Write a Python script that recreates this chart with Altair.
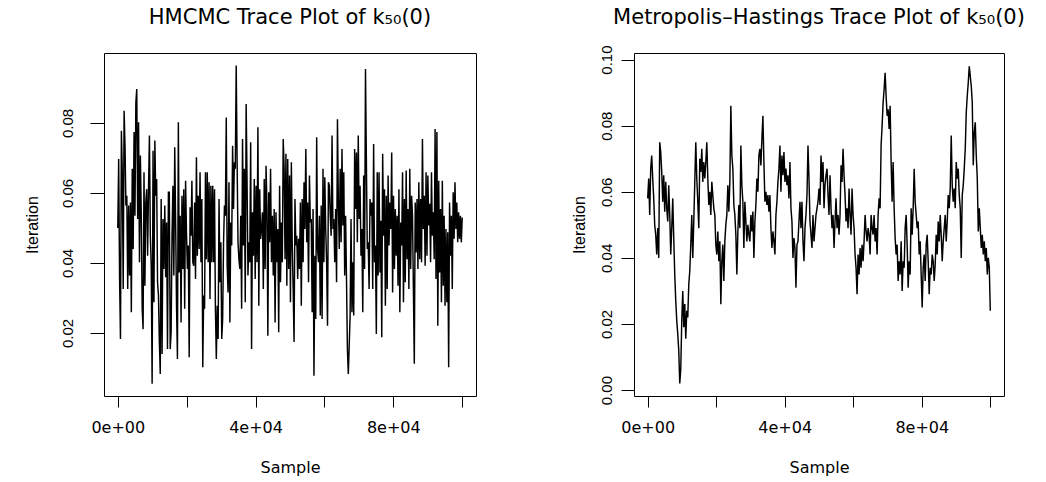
import altair as alt
import pandas as pd

# ---------------- data ----------------
hmc_values = [
    0.0500, 0.0697, 0.0354, 0.0183, 0.0778, 0.0659, 0.0326, 0.0835, 0.0735, 0.0564,
    0.0592, 0.0326, 0.0564, 0.0364, 0.0573, 0.0259, 0.0669, 0.0440, 0.0774, 0.0535,
    0.0859, 0.0897, 0.0526, 0.0802, 0.0402, 0.0707, 0.0535, 0.0269, 0.0211, 0.0659,
    0.0335, 0.0573, 0.0611, 0.0421, 0.0611, 0.0764, 0.0478, 0.0392, 0.0055, 0.0721,
    0.0288, 0.0750, 0.0592, 0.0640, 0.0345, 0.0307, 0.0174, 0.0083, 0.0583, 0.0140,
    0.0526, 0.0383, 0.0564, 0.0359, 0.0516, 0.0154, 0.0602, 0.0602, 0.0154, 0.0202,
    0.0478, 0.0621, 0.0364, 0.0731, 0.0516, 0.0278, 0.0126, 0.0802, 0.0373, 0.0535,
    0.0230, 0.0592, 0.0383, 0.0611, 0.0269, 0.0635, 0.0488, 0.0383, 0.0450, 0.0131,
    0.0559, 0.0478, 0.0635, 0.0402, 0.0392, 0.0573, 0.0354, 0.0702, 0.0421, 0.0592,
    0.0440, 0.0659, 0.0402, 0.0583, 0.0102, 0.0307, 0.0269, 0.0659, 0.0411, 0.0659,
    0.0402, 0.0631, 0.0297, 0.0621, 0.0402,
    0.0621, 0.0402, 0.0611, 0.0269, 0.0126, 0.0278, 0.0183, 0.0583, 0.0345, 0.0459,
    0.0183, 0.0240, 0.0459, 0.0564, 0.0535, 0.0816, 0.0392, 0.0316, 0.0631, 0.0230,
    0.0516, 0.0450, 0.0735, 0.0554, 0.0688, 0.0669, 0.0964, 0.0688, 0.0459, 0.0411,
    0.0383, 0.0535, 0.0269, 0.0754, 0.0450, 0.0669, 0.0288, 0.0854, 0.0631, 0.0364,
    0.0459, 0.0402, 0.0745, 0.0154, 0.0545, 0.0421, 0.0640, 0.0354, 0.0621, 0.0402,
    0.0788, 0.0278, 0.0611, 0.0469, 0.0497, 0.0545, 0.0326, 0.0640, 0.0383, 0.0678,
    0.0564, 0.0192, 0.0602, 0.0459, 0.0669, 0.0402, 0.0535, 0.0364, 0.0554, 0.0230,
    0.0545, 0.0402, 0.0497, 0.0202, 0.0621, 0.0345, 0.0516, 0.0402, 0.0754, 0.0669,
    0.0411, 0.0712, 0.0335, 0.0697, 0.0383, 0.0650, 0.0288, 0.0688, 0.0450, 0.0326,
    0.0174, 0.0583, 0.0450, 0.0478, 0.0354, 0.0469, 0.0383, 0.0573, 0.0278, 0.0583,
    0.0402, 0.0631, 0.0497, 0.0726, 0.0459, 0.0573, 0.0345, 0.0650, 0.0516, 0.0526,
    0.0259, 0.0554, 0.0078, 0.0421, 0.0240, 0.0759, 0.0440, 0.0402, 0.0535, 0.0250,
    0.0564, 0.0240, 0.0669, 0.0402, 0.0645, 0.0497, 0.0402, 0.0221, 0.0631, 0.0621,
    0.0535, 0.0478, 0.0764, 0.0497, 0.0526, 0.0402, 0.0554, 0.0345, 0.0811, 0.0573,
    0.0440,
    0.0669, 0.0459, 0.0726, 0.0507, 0.0659, 0.0364, 0.0535, 0.0354, 0.0154, 0.0083,
    0.0164, 0.0250, 0.0526, 0.0259, 0.0402, 0.0250, 0.0726, 0.0554, 0.0716, 0.0459,
    0.0764, 0.0526, 0.0621, 0.0421, 0.0497, 0.0259, 0.0650, 0.0383, 0.0954, 0.0688,
    0.0440, 0.0459, 0.0326, 0.0583, 0.0535, 0.0573, 0.0326, 0.0740, 0.0402, 0.0450,
    0.0197, 0.0659, 0.0364, 0.0659, 0.0373, 0.0521, 0.0188, 0.0712, 0.0478, 0.0611,
    0.0278, 0.0592, 0.0326, 0.0650, 0.0450, 0.0573, 0.0497, 0.0716, 0.0316, 0.0592,
    0.0383, 0.0554, 0.0421, 0.0535, 0.0335, 0.0611, 0.0259, 0.0516, 0.0450, 0.0659,
    0.0288, 0.0583, 0.0345, 0.0664, 0.0411, 0.0554, 0.0326, 0.0669, 0.0383, 0.0592,
    0.0535, 0.0326, 0.0112, 0.0573, 0.0430, 0.0583, 0.0383, 0.0631, 0.0411, 0.0583,
    0.0402, 0.0754, 0.0497, 0.0592, 0.0392, 0.0659, 0.0421, 0.0650, 0.0507, 0.0569,
    0.0402, 0.0659, 0.0478, 0.0545, 0.0411, 0.0783, 0.0354, 0.0774, 0.0221, 0.0635,
    0.0373, 0.0554, 0.0288, 0.0635, 0.0335, 0.0535, 0.0278, 0.0497, 0.0288, 0.0488,
    0.0102, 0.0573, 0.0421, 0.0535, 0.0326, 0.0602, 0.0469, 0.0631, 0.0497, 0.0573,
    0.0459, 0.0545, 0.0469, 0.0535, 0.0459, 0.0530,
]

mh_values = [
    0.058, 0.064, 0.053, 0.067, 0.071, 0.064, 0.058, 0.050, 0.047, 0.041,
    0.049, 0.040, 0.075, 0.072, 0.066, 0.057, 0.065, 0.054, 0.063, 0.055,
    0.051, 0.062, 0.053, 0.041, 0.049, 0.058, 0.046, 0.035, 0.027, 0.021,
    0.017, 0.012, 0.002, 0.0064, 0.021, 0.030, 0.019, 0.026, 0.0155, 0.024,
    0.022, 0.032, 0.036, 0.044, 0.053, 0.040, 0.051, 0.063, 0.075, 0.064,
    0.057, 0.049, 0.070, 0.066, 0.073, 0.063, 0.069, 0.064, 0.069, 0.075,
    0.064, 0.056, 0.060, 0.053, 0.063, 0.059, 0.055, 0.053, 0.044, 0.041,
    0.048, 0.039, 0.045, 0.026, 0.039, 0.044, 0.033, 0.045, 0.050, 0.053,
    0.062,
    0.054, 0.063, 0.086, 0.071, 0.067, 0.056, 0.053, 0.047, 0.035, 0.048,
    0.056, 0.049, 0.074, 0.062, 0.057, 0.043, 0.057, 0.051, 0.045, 0.050,
    0.047, 0.045, 0.053, 0.048, 0.054, 0.040, 0.051, 0.056, 0.064, 0.060,
    0.071, 0.073, 0.068, 0.076, 0.083, 0.069, 0.057, 0.060, 0.056, 0.059,
    0.054, 0.059, 0.049, 0.043, 0.048, 0.045, 0.041, 0.053, 0.057, 0.063,
    0.067, 0.074, 0.060, 0.071, 0.065, 0.072, 0.063, 0.067, 0.062, 0.065,
    0.058, 0.069, 0.055, 0.051, 0.040, 0.046, 0.043, 0.031, 0.044, 0.045,
    0.051, 0.057, 0.049, 0.057, 0.045, 0.039, 0.049, 0.053, 0.059, 0.074,
    0.064, 0.051, 0.047, 0.043, 0.053, 0.045, 0.049, 0.053, 0.055, 0.057,
    0.061, 0.056, 0.071, 0.063, 0.069, 0.055, 0.062, 0.065, 0.067, 0.059,
    0.053, 0.065, 0.055, 0.049, 0.053, 0.043, 0.051, 0.058, 0.049, 0.053,
    0.047, 0.053, 0.068, 0.063, 0.073, 0.065, 0.059, 0.051, 0.055, 0.049,
    0.061, 0.053, 0.047, 0.061, 0.053, 0.049, 0.041, 0.037, 0.029, 0.041,
    0.035, 0.043, 0.037, 0.044, 0.039, 0.045, 0.053, 0.048, 0.045, 0.049,
    0.047, 0.041, 0.053, 0.049,
    0.047, 0.053, 0.045, 0.049, 0.041, 0.053, 0.058, 0.055, 0.074, 0.080,
    0.087, 0.091, 0.096, 0.089, 0.083, 0.085, 0.079, 0.086, 0.069, 0.057,
    0.069, 0.055, 0.046, 0.041, 0.044, 0.033, 0.039, 0.035, 0.045, 0.030,
    0.039, 0.037, 0.049, 0.053, 0.044, 0.031, 0.039, 0.035, 0.055, 0.047,
    0.055, 0.067, 0.057, 0.053, 0.049, 0.051, 0.041, 0.045, 0.035, 0.025,
    0.037, 0.041, 0.033, 0.044, 0.047, 0.039, 0.029, 0.037, 0.035, 0.041,
    0.039, 0.033, 0.038, 0.047, 0.041, 0.051, 0.045, 0.053, 0.047, 0.039,
    0.045, 0.049, 0.053, 0.045, 0.051, 0.059, 0.055, 0.061, 0.077, 0.062,
    0.057, 0.061, 0.055, 0.069, 0.064, 0.067, 0.059, 0.055, 0.040, 0.059,
    0.062, 0.067, 0.073, 0.084, 0.089, 0.093, 0.098, 0.095, 0.092, 0.087,
    0.068, 0.078, 0.081, 0.071, 0.064, 0.048, 0.055, 0.049, 0.043, 0.047,
    0.041, 0.045, 0.039, 0.043, 0.035, 0.040, 0.037, 0.024,
]

n_samples = 100000
x_ticks = [0, 20000, 40000, 60000, 80000, 100000]
x_tick_labels = {0: "0e+00", 40000: "4e+04", 80000: "8e+04"}
hmc_y_ticks = [0.02, 0.04, 0.06, 0.08]
mh_y_ticks = [0.00, 0.02, 0.04, 0.06, 0.08, 0.10]

hmc_title = "HMCMC Trace Plot of k\u2085\u2080(0)"
mh_title = "Metropolis\u2013Hastings Trace Plot of k\u2085\u2080(0)"

# ---------------- chart ----------------
label_expr = " : ".join(
    f"datum.value == {k} ? '{v}'" for k, v in x_tick_labels.items()
) + " : ''"

H_FONT = "DejaVu Sans"
V_FONT = "Liberation Sans"
PLOT_H = 343


def sample_index(n):
    return [i * n_samples / (n - 1) for i in range(n)]


def panel(values, title, ydomain, yticks, width, ytick, ylabpad, ytitle_x, toff):
    df = pd.DataFrame({"sample": sample_index(len(values)), "value": values})
    return (
        alt.Chart(df)
        .mark_line(color="black", strokeWidth=1.45, clip=True)
        .encode(
            x=alt.X(
                "sample:Q",
                scale=alt.Scale(domain=[-4000, 104000], nice=False, zero=False),
                axis=alt.Axis(
                    values=x_ticks, labelExpr=label_expr, title="Sample",
                    domain=False, grid=False, ticks=True, tickSize=11,
                    tickColor="black", tickWidth=1,
                    labelFont=H_FONT, labelFontSize=16, labelColor="black",
                    labelPadding=12, labelFlush=False, labelOverlap=False,
                    titleFont=H_FONT, titleFontSize=16, titleFontWeight="normal",
                    titleColor="black", titleY=71, titleBaseline="middle",
                ),
            ),
            y=alt.Y(
                "value:Q",
                scale=alt.Scale(domain=ydomain, nice=False, zero=False),
                axis=alt.Axis(
                    values=yticks, format=".2f", title="Iteration",
                    domain=False, grid=False, ticks=True, tickSize=ytick,
                    tickColor="black", tickWidth=1,
                    labelFont=V_FONT, labelFontSize=15, labelColor="black",
                    labelAngle=270, labelAlign="center", labelBaseline="middle",
                    labelPadding=ylabpad, labelFlush=False, labelOverlap=False,
                    titleFont=V_FONT, titleFontSize=16, titleFontWeight="normal",
                    titleColor="black", titleAngle=270, titleX=ytitle_x,
                    titleY=PLOT_H / 2, titleBaseline="middle", titleAlign="center",
                ),
            ),
        )
        .properties(
            width=width, height=PLOT_H,
            title=alt.TitleParams(
                title, font=H_FONT, fontSize=21, fontWeight="normal",
                color="black", anchor="middle", baseline="alphabetic", offset=toff,
            ),
        )
    )


left = panel(hmc_values, hmc_title, [0.002, 0.1], hmc_y_ticks, 372, 14, 23, -72, 8)
right = panel(mh_values, mh_title, [-0.0018, 0.102], mh_y_ticks, 370, 13, 15, -55, 0)

chart = (
    alt.hconcat(left, right, spacing=93)
    .properties(padding={"left": 23, "top": 6, "right": 5, "bottom": 5},
                background="white")
    .configure_view(stroke="black", strokeWidth=1)
)

chart.save("out.html", embed_options={"renderer": "svg", "actions": False})
